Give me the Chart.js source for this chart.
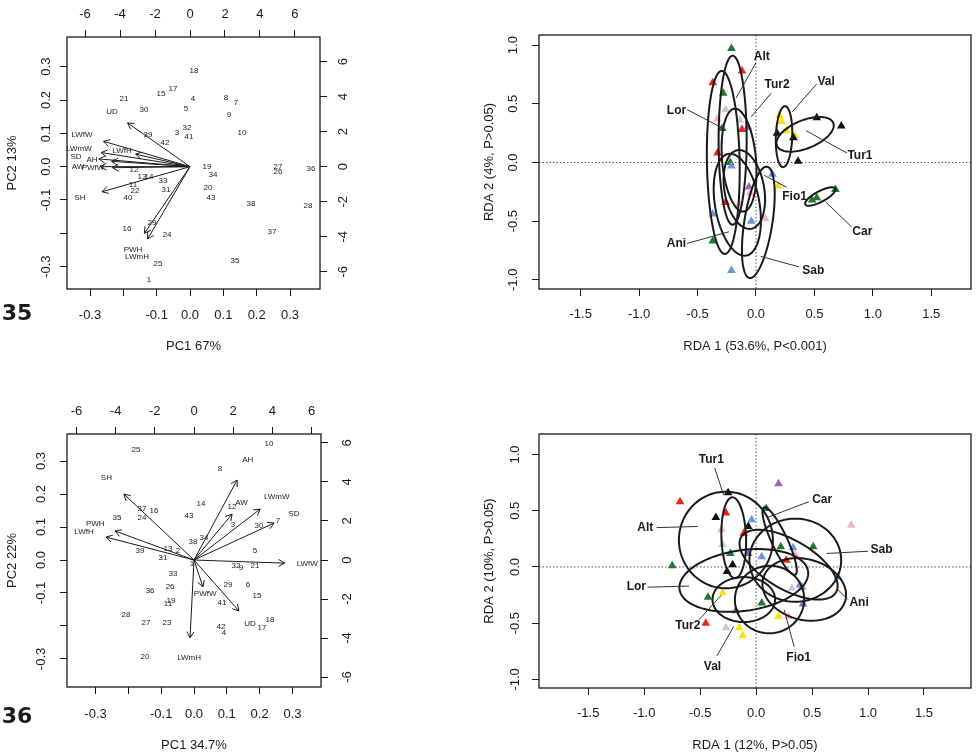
<!DOCTYPE html>
<html><head><meta charset="utf-8">
<script src="https://cdn.jsdelivr.net/npm/chart.js@4.4.1/dist/chart.umd.min.js"></script>
<style>
html,body{margin:0;padding:0;background:#fff;}
body{width:976px;height:754px;position:relative;overflow:hidden;}
canvas{position:absolute;}
</style></head><body>
<canvas id="c35pca" width="470" height="377" style="left:0;top:0"></canvas>
<canvas id="c35rda" width="506" height="377" style="left:470px;top:0"></canvas>
<canvas id="c36pca" width="470" height="377" style="left:0;top:377px"></canvas>
<canvas id="c36rda" width="506" height="377" style="left:470px;top:377px"></canvas>
<script>
// Figures 35 / 36 — PCA biplots (left) and RDA ordinations with site ellipses (right).
const INK='#1a1a1a', FONT="'Liberation Sans',Arial,sans-serif";
const COL={r:'#f0201c',g:'#1f7a30',b:'#6a96e0',p:'#f5b3c6',v:'#a35ec2',y:'#f3e31b',a:'#c9c9c9',k:'#111111'};
Chart.defaults.font.family=FONT;

// ---- tick values / labels ----
const LOAD_TICKS=[-0.3,-0.2,-0.1,0,0.1,0.2,0.3];
const LOAD_LABELS=['-0.3','','-0.1','0.0','0.1','0.2','0.3'];
const SCORE_TICKS=[-6,-4,-2,0,2,4,6];
const SCORE_LABELS=['-6','-4','-2','0','2','4','6'];
const RDA_XTICKS=[-1.5,-1,-0.5,0,0.5,1,1.5];
const RDA_XLABELS=['-1.5','-1.0','-0.5','0.0','0.5','1.0','1.5'];
const RDA_YTICKS=[-1,-0.5,0,0.5,1];
const RDA_YLABELS=['-1.0','-0.5','0.0','0.5','1.0'];

// ---- Fig 35 PCA: observations (scores, top/right axes) ----
const P35_OBS=['18','17','15','21','4','8','7','30','5','9','32','3','41','10','39','42','19','34','12','13','14','33','11','31','22','40','20','43','38','27','26','36','28','16','29','24','37','25','35','1'];
const P35_OBS_X=[0.23,-0.97,-1.66,-3.77,0.17,2.06,2.63,-2.63,-0.23,2.23,-0.17,-0.74,-0.06,2.97,-2.4,-1.43,0.97,1.31,-3.2,-2.74,-2.34,-1.54,-3.26,-1.37,-3.14,-3.54,1.03,1.2,3.49,5.03,5.03,6.91,6.74,-3.6,-2.17,-1.31,4.69,-1.83,2.57,-2.34];
const P35_OBS_Y=[5.47,4.44,4.15,3.87,3.87,3.93,3.64,3.24,3.3,2.95,2.21,1.92,1.7,1.92,1.81,1.35,0,-0.47,-0.19,-0.59,-0.59,-0.82,-1.05,-1.33,-1.39,-1.79,-1.22,-1.79,-2.13,-0.02,-0.3,-0.13,-2.25,-3.56,-3.22,-3.9,-3.73,-5.56,-5.39,-6.47];
// variables (loadings, bottom/left axes)
const P35_VAR=['UD','LWfW','LWmW','LWfH','SD','AH','AW','PWfW','SH','PWH','LWmH'];
const P35_VAR_X=[-0.234,-0.324,-0.333,-0.204,-0.342,-0.294,-0.336,-0.291,-0.330,-0.171,-0.159];
const P35_VAR_Y=[0.164,0.095,0.053,0.047,0.029,0.020,0.0,-0.004,-0.094,-0.250,-0.271];

// ---- Fig 36 PCA ----
const P36_OBS=['10','25','8','14','12','37','16','24','35','43','3','30','7','38','34','39','13','2','5','31','32','9','21','33','26','36','29','6','15','19','11','41','28','27','23','42','4','17','18','20','1'];
const P36_OBS_X=[3.83,-2.96,1.33,0.36,1.94,-2.65,-2.04,-2.65,-3.93,-0.26,1.99,3.32,4.29,-0.05,0.51,-2.76,-1.33,-0.82,3.11,-1.58,2.14,2.4,3.11,-1.07,-1.22,-2.24,1.73,2.76,3.21,-1.17,-1.33,1.43,-3.47,-2.45,-1.38,1.38,1.53,3.47,3.88,-2.5,-0.1];
const P36_OBS_Y=[5.95,5.64,4.67,2.87,2.72,2.62,2.51,2.15,2.15,2.26,1.79,1.74,2.0,0.92,1.13,0.46,0.56,0.46,0.46,0.1,-0.31,-0.41,-0.31,-0.72,-1.38,-1.59,-1.28,-1.28,-1.85,-2.1,-2.26,-2.21,-2.82,-3.23,-3.23,-3.44,-3.74,-3.49,-3.08,-4.97,-0.2];
const P36_VAR=['AH','SH','LWmW','AW','SD','PWH','LWfH','LWfW','PWfW','UD','LWmH'];
const P36_VAR_X=[0.164,-0.267,0.252,0.145,0.305,-0.301,-0.335,0.345,0.034,0.171,-0.015];
const P36_VAR_Y=[0.303,0.250,0.193,0.174,0.140,0.110,0.087,-0.012,-0.102,-0.193,-0.295];

// ---- Fig 35 RDA: samples (triangles, colour = group) ----
const R35_X=[-0.21,-0.12,-0.37,-0.28,-0.26,-0.33,-0.14,-0.29,-0.12,-0.07,-0.33,-0.22,-0.21,0.2,0.22,0.18,0.26,0.33,0.32,0.52,0.73,0.36,0.14,0.19,-0.06,-0.05,-0.26,-0.14,-0.37,-0.04,0.08,-0.37,-0.21,0.48,0.68,0.52];
const R35_Y=[0.97,0.78,0.68,0.59,0.45,0.37,0.36,0.29,0.28,0.30,0.08,0.0,-0.03,0.4,0.35,0.25,0.27,0.23,0.21,0.38,0.31,0.01,-0.1,-0.2,-0.21,-0.26,-0.34,-0.35,-0.44,-0.5,-0.48,-0.67,-0.92,-0.32,-0.23,-0.30];
const R35_C=['g','r','r','g','a','p','a','g','r','v','r','g','b','y','y','k','y','y','k','k','k','k','b','y','v','p','r','p','b','b','p','g','b','g','g','g'];
// site ellipses: [centre x, centre y, semi-axis a, semi-axis b, angle deg]
const R35_SITES=['Alt','Tur2','Val','Lor','Tur1','Fio1','Car','Ani','Sab'];
const R35_ELL=[[-0.20,0.19,0.72,0.12,90],[-0.145,0.02,0.44,0.145,95],[0.24,0.22,0.26,0.07,88],[-0.28,0.0,0.78,0.14,91],[0.42,0.24,0.26,0.12,22],[-0.10,-0.23,0.34,0.17,100],[0.55,-0.29,0.145,0.045,28],[-0.16,-0.36,0.44,0.19,100],[0.02,-0.51,0.48,0.12,81]];
const R35_LAB_X=[0.05,0.18,0.60,-0.68,0.89,0.33,0.91,-0.68,0.49];
const R35_LAB_Y=[0.90,0.66,0.69,0.44,0.06,-0.29,-0.59,-0.69,-0.92];
const R35_LEAD=[[0.0,0.85,-0.17,0.55],[0.13,0.59,-0.04,0.39],[0.52,0.67,0.31,0.43],[-0.59,0.45,-0.26,0.28],[0.78,0.08,0.43,0.27],[0.26,-0.21,0.07,-0.11],[0.82,-0.55,0.60,-0.34],[-0.59,-0.69,-0.23,-0.59],[0.37,-0.89,0.04,-0.80]];

// ---- Fig 36 RDA ----
const R36_X=[-0.68,-0.75,0.20,0.85,-0.25,-0.27,-0.36,-0.31,-0.04,-0.11,-0.07,-0.30,-0.23,-0.07,0.05,0.22,0.51,0.33,0.35,0.27,-0.21,-0.26,0.73,0.09,0.39,0.32,0.41,-0.43,-0.30,0.05,-0.18,0.42,0.20,-0.45,-0.27,-0.15,-0.12,0.29];
const R36_Y=[0.58,0.01,0.74,0.37,0.66,0.48,0.44,0.33,0.42,0.30,0.36,0.20,0.12,0.12,0.09,0.18,0.18,0.17,0.11,0.06,0.02,-0.04,-0.09,0.52,-0.16,-0.19,-0.18,-0.27,-0.23,-0.32,-0.39,-0.33,-0.44,-0.50,-0.54,-0.54,-0.61,-0.44];
const R36_C=['r','g','v','p','k','r','k','p','b','r','k','a','g','v','b','g','g','b','p','r','k','k','b','g','b','a','b','g','y','g','v','v','y','r','a','y','y','p'];
const R36_SITES=['Tur1','Alt','Car','Sab','Lor','Ani','Tur2','Val','Fio1'];
const R36_ELL=[[-0.20,0.26,0.36,0.11,92],[-0.27,0.24,0.42,0.43,0],[0.21,0.23,0.33,0.07,-65],[0.35,0.06,0.41,0.37,0],[-0.11,-0.12,0.58,0.27,8],[0.29,0.02,0.49,0.22,-30],[-0.11,-0.29,0.28,0.20,0],[0.12,-0.29,0.31,0.30,10],[0.43,-0.20,0.38,0.27,-15]];
const R36_LAB_X=[-0.40,-0.99,0.59,1.12,-1.07,0.92,-0.61,-0.39,0.38];
const R36_LAB_Y=[0.95,0.35,0.60,0.15,-0.18,-0.32,-0.52,-0.89,-0.81];
const R36_LEAD=[[-0.37,0.88,-0.29,0.64],[-0.89,0.35,-0.52,0.36],[0.47,0.58,0.10,0.44],[1.00,0.14,0.63,0.12],[-0.97,-0.18,-0.60,-0.17],[0.82,-0.29,0.72,-0.19],[-0.51,-0.47,-0.31,-0.25],[-0.35,-0.79,-0.20,-0.53],[0.34,-0.71,0.25,-0.38]];

// ---- helpers ----
function lin(pos,min,max,ticks,size){
  return {type:'linear',position:pos,min:min,max:max,
    afterBuildTicks:s=>{s.ticks=ticks.map(v=>({value:v}));},
    afterFit:s=>{if(pos==='left'||pos==='right') s.width=size; else s.height=size;},
    ticks:{display:false},border:{display:false},
    grid:{display:true,drawOnChartArea:false,drawTicks:true,tickLength:7,color:INK,lineWidth:1}};
}
function pts(xs,ys){return xs.map((x,i)=>({x:x,y:ys[i]}));}
function txt(c,s,x,y,font,rot){
  c.save();c.translate(x,y);if(rot) c.rotate(-Math.PI/2);
  c.font=font;c.fillStyle=INK;c.textAlign='center';c.textBaseline='middle';c.fillText(s,0,0);c.restore();
}
function tickText(ch,id,labels,at){
  const s=ch.scales[id];
  s.ticks.forEach((t,i)=>{ if(!labels[i]) return;
    const p=s.getPixelForValue(t.value);
    if(s.isHorizontal()) txt(ch.ctx,labels[i],p,at,'13px '+FONT,false);
    else txt(ch.ctx,labels[i],at,p,'13px '+FONT,true);
  });
}
function frame(ch){
  const c=ch.ctx,a=ch.chartArea; c.save();c.strokeStyle=INK;c.lineWidth=1.3;
  c.strokeRect(a.left,a.top,a.right-a.left,a.bottom-a.top);c.restore();
}
function arrow(c,x0,y0,x1,y1,h){
  const t=Math.atan2(y1-y0,x1-x0);
  c.beginPath();c.moveTo(x0,y0);c.lineTo(x1,y1);
  c.moveTo(x1-h*Math.cos(t-Math.PI/6),y1-h*Math.sin(t-Math.PI/6));c.lineTo(x1,y1);
  c.lineTo(x1-h*Math.cos(t+Math.PI/6),y1-h*Math.sin(t+Math.PI/6));c.stroke();
}
function ellipse(c,sx,sy,e){
  const th=e[4]*Math.PI/180; c.beginPath();
  for(let k=0;k<=90;k++){
    const t=k/90*2*Math.PI, dx=e[2]*Math.cos(t), dy=e[3]*Math.sin(t);
    const X=sx.getPixelForValue(e[0]+dx*Math.cos(th)-dy*Math.sin(th));
    const Y=sy.getPixelForValue(e[1]+dx*Math.sin(th)+dy*Math.cos(th));
    k?c.lineTo(X,Y):c.moveTo(X,Y);
  }
  c.closePath();c.stroke();
}
const base={animation:false,responsive:false,events:[],plugins:{legend:{display:false},tooltip:{enabled:false}}};

// ---- PCA biplot ----
function biplot(id,cfg){
  new Chart(document.getElementById(id),{type:'scatter',
    data:{datasets:[
      {data:pts(cfg.ox,cfg.oy),xAxisID:'x2',yAxisID:'y2',pointRadius:0},
      {data:pts(cfg.vx,cfg.vy),xAxisID:'x',yAxisID:'y',pointRadius:0}]},
    options:Object.assign({},base,{layout:{padding:0},
      scales:{x:lin('bottom',cfg.xr[0],cfg.xr[1],LOAD_TICKS,cfg.sz[3]),
        x2:lin('top',cfg.x2r[0],cfg.x2r[1],SCORE_TICKS,cfg.sz[2]),
        y:lin('left',cfg.yr[0],cfg.yr[1],LOAD_TICKS,cfg.sz[0]),
        y2:lin('right',cfg.y2r[0],cfg.y2r[1],SCORE_TICKS,cfg.sz[1])}}),
    plugins:[{id:'biplot',
      afterDatasetsDraw(ch){
        const c=ch.ctx,X=ch.scales.x,Y=ch.scales.y,x0=X.getPixelForValue(0),y0=Y.getPixelForValue(0);
        c.save();c.strokeStyle=INK;c.lineWidth=1;
        // R's biplot draws each arrow to 0.8 of the label position
        cfg.vx.forEach((v,i)=>arrow(c,x0,y0,X.getPixelForValue(0.8*v),Y.getPixelForValue(0.8*cfg.vy[i]),7));
        c.restore();
        ch.getDatasetMeta(0).data.forEach((p,i)=>txt(c,cfg.obs[i],p.x,p.y,'8px '+FONT));
        ch.getDatasetMeta(1).data.forEach((p,i)=>txt(c,cfg.vars[i],p.x,p.y,'8px '+FONT));
      },
      afterDraw(ch){
        const a=ch.chartArea,c=ch.ctx; frame(ch);
        tickText(ch,'x',LOAD_LABELS,cfg.lab[3]);tickText(ch,'x2',SCORE_LABELS,cfg.lab[2]);
        tickText(ch,'y',LOAD_LABELS,cfg.lab[0]);tickText(ch,'y2',SCORE_LABELS,cfg.lab[1]);
        txt(c,cfg.xt,(a.left+a.right)/2,cfg.xtAt,'13px '+FONT);
        txt(c,cfg.yt,cfg.ytAt,(a.top+a.bottom)/2,'13px '+FONT,true);
        txt(c,cfg.num,17,cfg.numAt,"bold 22px 'DejaVu Sans',sans-serif");
      }}]
  });
}

// ---- RDA ordination ----
function rda(id,cfg){
  new Chart(document.getElementById(id),{type:'scatter',
    data:{datasets:[{data:pts(cfg.px,cfg.py),pointStyle:'triangle',pointRadius:5,
      pointBackgroundColor:cfg.pc.map(k=>COL[k]),pointBorderWidth:0}]},
    options:Object.assign({},base,{layout:{padding:{top:cfg.padTop,right:3,left:0,bottom:0}},
      scales:{x:lin('bottom',cfg.xr[0],cfg.xr[1],RDA_XTICKS,cfg.xh),
        y:lin('left',cfg.yr[0],cfg.yr[1],RDA_YTICKS,69)}}),
    plugins:[{id:'rda',
      beforeDatasetsDraw(ch){
        const c=ch.ctx,a=ch.chartArea,X=ch.scales.x,Y=ch.scales.y;
        c.save();c.strokeStyle='#555';c.lineWidth=1;c.setLineDash([1.5,2]);
        c.beginPath();c.moveTo(X.getPixelForValue(0),a.top);c.lineTo(X.getPixelForValue(0),a.bottom);
        c.moveTo(a.left,Y.getPixelForValue(0));c.lineTo(a.right,Y.getPixelForValue(0));c.stroke();c.restore();
      },
      afterDatasetsDraw(ch){
        const c=ch.ctx,X=ch.scales.x,Y=ch.scales.y;
        c.save();c.strokeStyle=INK;c.lineWidth=2;
        cfg.ell.forEach(e=>ellipse(c,X,Y,e));
        c.lineWidth=1;c.strokeStyle='#333';
        cfg.lead.forEach(l=>{c.beginPath();c.moveTo(X.getPixelForValue(l[0]),Y.getPixelForValue(l[1]));
          c.lineTo(X.getPixelForValue(l[2]),Y.getPixelForValue(l[3]));c.stroke();});
        c.restore();
        cfg.sites.forEach((s,i)=>txt(c,s,X.getPixelForValue(cfg.lx[i]),Y.getPixelForValue(cfg.ly[i]),'bold 12px '+FONT));
      },
      afterDraw(ch){
        const a=ch.chartArea,c=ch.ctx; frame(ch);
        tickText(ch,'x',RDA_XLABELS,cfg.xlabAt);tickText(ch,'y',RDA_YLABELS,cfg.ylabAt);
        txt(c,cfg.xt,(a.left+a.right)/2,cfg.xtAt,'13px '+FONT);
        txt(c,cfg.yt,19,(a.top+a.bottom)/2,'13px '+FONT,true);
      }}]
  });
}

biplot('c35pca',{obs:P35_OBS,ox:P35_OBS_X,oy:P35_OBS_Y,vars:P35_VAR,vx:P35_VAR_X,vy:P35_VAR_Y,
  xr:[-0.369,0.390],x2r:[-7.03,7.43],yr:[-0.367,0.389],y2r:[-6.99,7.41],
  sz:[67,150,37,88],lab:[46,343,14,315],xt:'PC1 67%',xtAt:346,yt:'PC2 13%',ytAt:12,num:'35',numAt:314});
biplot('c36pca',{obs:P36_OBS,ox:P36_OBS_X,oy:P36_OBS_Y,vars:P36_VAR,vx:P36_VAR_X,vy:P36_VAR_Y,
  xr:[-0.387,0.387],x2r:[-6.48,6.48],yr:[-0.385,0.382],y2r:[-6.51,6.46],
  sz:[67,149,57,67],lab:[41,347,34,337],xt:'PC1 34.7%',xtAt:368,yt:'PC2 22%',ytAt:12,num:'36',numAt:340});
rda('c35rda',{px:R35_X,py:R35_Y,pc:R35_C,ell:R35_ELL,sites:R35_SITES,lx:R35_LAB_X,ly:R35_LAB_Y,lead:R35_LEAD,
  xr:[-1.857,1.840],yr:[-1.078,1.086],padTop:35,xh:88,xlabAt:314,ylabAt:43,
  xt:'RDA 1 (53.6%, P<0.001)',xtAt:346,yt:'RDA 2 (4%, P>0.05)'});
rda('c36rda',{px:R36_X,py:R36_Y,pc:R36_C,ell:R36_ELL,sites:R36_SITES,lx:R36_LAB_X,ly:R36_LAB_Y,lead:R36_LEAD,
  xr:[-1.94,1.92],yr:[-1.077,1.183],padTop:57,xh:66,xlabAt:336,ylabAt:45,
  xt:'RDA 1 (12%, P>0.05)',xtAt:368,yt:'RDA 2 (10%, P>0.05)'});
</script>
</body></html>
